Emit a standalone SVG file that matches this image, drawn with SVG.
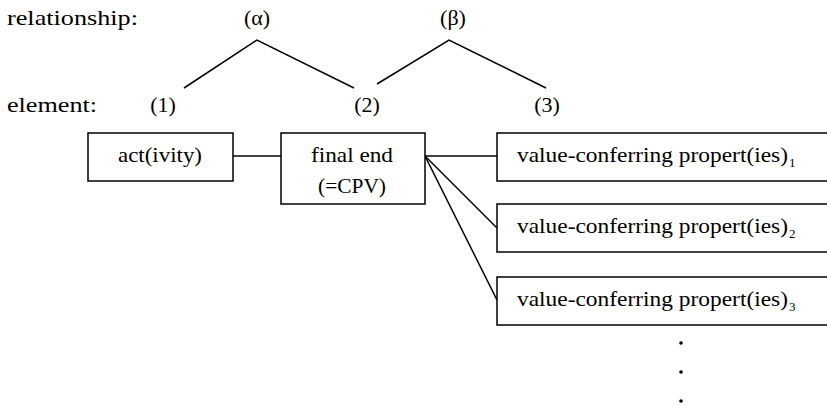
<svg xmlns="http://www.w3.org/2000/svg" width="827" height="406" viewBox="0 0 827 406">
  <style>
    text { font-family: "Liberation Serif", "DejaVu Serif", serif; font-size: 22px; fill: #000; }
    .sub { font-size: 13px; }
    .box { fill: #fff; stroke: #000; stroke-width: 1.5; }
    .wire { fill: none; stroke: #000; stroke-width: 1.5; }
  </style>

  <!-- row labels -->
  <g id="labels">
    <text x="7" y="25" textLength="131" lengthAdjust="spacingAndGlyphs">relationship:</text>
    <text x="7" y="112" textLength="90" lengthAdjust="spacingAndGlyphs">element:</text>
  </g>

  <!-- relationship markers -->
  <g id="rel-alpha"><text x="257" y="25" text-anchor="middle">(α)</text></g>
  <g id="rel-beta"><text x="453" y="25" text-anchor="middle">(β)</text></g>

  <!-- element numbers -->
  <g id="el-1"><text x="163" y="112" text-anchor="middle">(1)</text></g>
  <g id="el-2"><text x="367" y="112" text-anchor="middle">(2)</text></g>
  <g id="el-3"><text x="547" y="112" text-anchor="middle">(3)</text></g>

  <!-- connectors -->
  <g id="connectors" class="wire">
    <polyline points="184,88 257,40 354,88"/>
    <polyline points="377,84 449,40 546,88"/>
    <line x1="233" y1="156" x2="281" y2="156"/>
    <line x1="425" y1="156" x2="497" y2="156"/>
    <line x1="425" y1="156" x2="497" y2="228"/>
    <line x1="425" y1="156" x2="497" y2="300"/>
  </g>

  <!-- nodes -->
  <g id="activity">
    <rect class="box" x="88" y="133" width="145" height="48"/>
    <text x="160" y="162" text-anchor="middle" textLength="84" lengthAdjust="spacingAndGlyphs">act(ivity)</text>
  </g>

  <g id="final-end">
    <rect class="box" x="281" y="133" width="144" height="71"/>
    <text x="352" y="162" text-anchor="middle" textLength="82" lengthAdjust="spacingAndGlyphs">final end</text>
    <text x="352" y="193" text-anchor="middle" textLength="68" lengthAdjust="spacingAndGlyphs">(=CPV)</text>
  </g>

  <g id="property-1">
    <rect class="box" x="497" y="133" width="345" height="48"/>
    <text x="517" y="162"><tspan textLength="271" lengthAdjust="spacingAndGlyphs">value-conferring propert(ies)</tspan><tspan class="sub" dx="1" dy="5">1</tspan></text>
  </g>

  <g id="property-2">
    <rect class="box" x="497" y="204" width="345" height="48"/>
    <text x="517" y="233"><tspan textLength="271" lengthAdjust="spacingAndGlyphs">value-conferring propert(ies)</tspan><tspan class="sub" dx="1" dy="5">2</tspan></text>
  </g>

  <g id="property-3">
    <rect class="box" x="497" y="277" width="345" height="48"/>
    <text x="517" y="306"><tspan textLength="271" lengthAdjust="spacingAndGlyphs">value-conferring propert(ies)</tspan><tspan class="sub" dx="1" dy="5">3</tspan></text>
  </g>

  <!-- continuation dots -->
  <g id="ellipsis" fill="#000">
    <circle cx="681" cy="343" r="1.8"/>
    <circle cx="681" cy="372" r="1.8"/>
    <circle cx="681" cy="401" r="1.8"/>
  </g>
</svg>
